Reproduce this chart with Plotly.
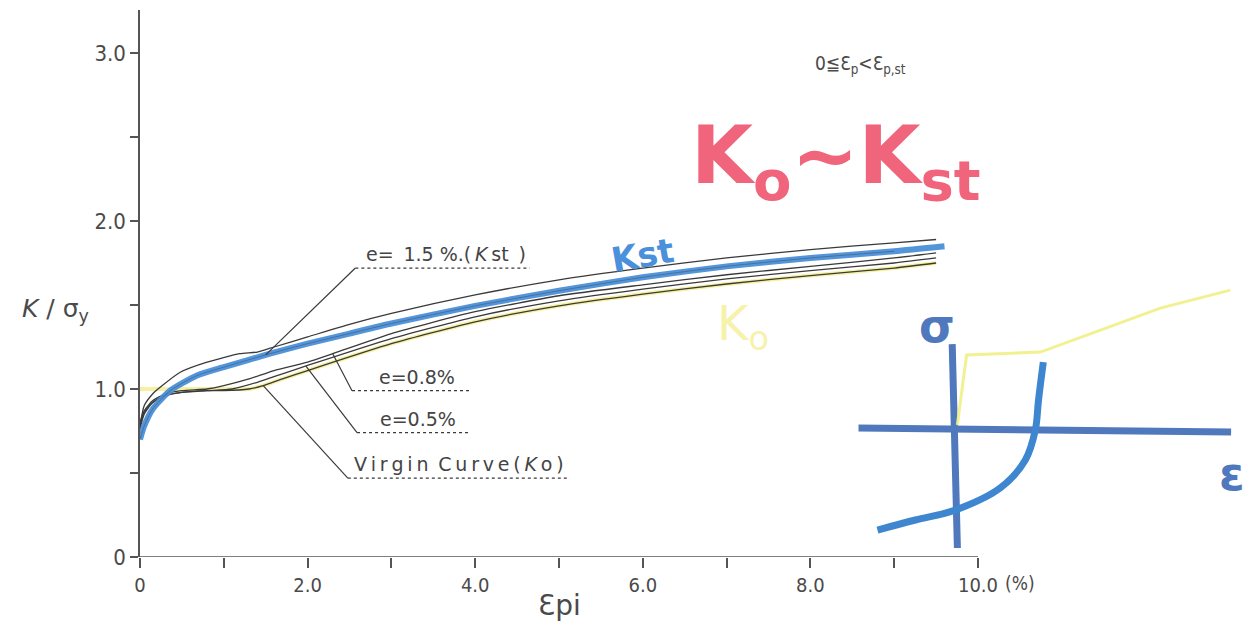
import numpy as np
import plotly.graph_objects as go

# ---- hardening curves: K / sigma_y against plastic strain Epi (%) ----
# uppermost (unlabelled) curve
eps_top = [0, 0.05, 0.15, 0.24, 0.48, 0.8, 1.19, 1.4, 1.6, 2.0, 2.5, 3.0, 4.0, 5.0, 6.0, 7.0, 8.0, 9.0, 9.5]
k_top = [0.78, 0.90, 0.97, 1.01, 1.10, 1.16, 1.21, 1.22, 1.25, 1.31, 1.385, 1.45, 1.56, 1.65, 1.72, 1.78, 1.83, 1.87, 1.89]

# e = 1.5 % (Kst)
eps_kst = [0, 0.05, 0.15, 0.36, 0.68, 1.0, 1.55, 2.0, 2.5, 3.0, 4.0, 5.0, 6.0, 7.0, 8.0, 9.0, 9.6]
k_kst = [0.70, 0.78, 0.88, 0.99, 1.08, 1.13, 1.21, 1.27, 1.33, 1.39, 1.495, 1.585, 1.665, 1.73, 1.78, 1.82, 1.85]

# e = 0.8 %
eps_e08 = [0, 0.05, 0.15, 0.3, 0.5, 0.8, 1.0, 1.3, 1.6, 2.0, 2.3, 3.0, 4.0, 5.0, 6.0, 7.0, 8.0, 9.0, 9.5]
k_e08 = [0.80, 0.87, 0.93, 0.97, 0.99, 1.00, 1.02, 1.06, 1.11, 1.16, 1.21, 1.33, 1.46, 1.555, 1.62, 1.68, 1.73, 1.78, 1.81]

# e = 0.5 %
eps_e05 = [0, 0.05, 0.15, 0.3, 0.5, 0.8, 1.1, 1.4, 1.7, 2.0, 3.0, 4.0, 5.0, 6.0, 7.0, 8.0, 9.0, 9.5]
k_e05 = [0.78, 0.86, 0.92, 0.96, 0.98, 0.99, 1.00, 1.04, 1.09, 1.14, 1.30, 1.43, 1.525, 1.595, 1.655, 1.705, 1.75, 1.78]

# virgin curve (Ko)
eps_vir = [0, 0.05, 0.15, 0.3, 0.5, 0.8, 1.0, 1.3, 1.47, 1.7, 2.0, 3.0, 4.0, 5.0, 6.0, 7.0, 8.0, 9.0, 9.5]
k_vir = [0.76, 0.85, 0.92, 0.96, 0.98, 0.99, 0.99, 1.00, 1.02, 1.06, 1.11, 1.27, 1.40, 1.495, 1.565, 1.625, 1.675, 1.72, 1.75]

x_major_vals = [0, 2, 4, 6, 8, 10]
x_major_text = ["0", "2.0", "4.0", "6.0", "8.0", "10.0"]
x_minor_vals = [1, 3, 5, 7, 9]
y_major_vals = [0, 1.0, 2.0, 3.0]
y_major_text = ["0", "1.0", "2.0", "3.0"]
y_minor_vals = [0.5, 1.5, 2.5]

# ---- small sigma-epsilon sketch (nominal units) ----
sk_h_eps = [-2.43, 6.9]
sk_h_sig = [0.0, -0.1]
sk_v_eps = [-0.08, 0.05]
sk_v_sig = [2.1, -3.0]
sk_blue_eps = [-1.95, -1.0, 0.0, 1.12, 1.75, 2.0, 2.08, 2.2]
sk_blue_sig = [-2.55, -2.3, -2.05, -1.5, -0.8, -0.05, 0.7, 1.65]
sk_yel_eps = [0.05, 0.28, 2.13, 3.63, 5.13, 6.88]
sk_yel_sig = [0.08, 1.83, 1.9, 2.45, 3.0, 3.45]

INK = "#3a3a3a"
AXIS = "#555555"
TXT = "#4a4a4a"
BLUE = "#4a90da"
SKETCH_BLUE = "#5079bd"
YELLOW = "rgba(245,240,150,0.9)"
NARROW = "Liberation Sans Narrow, DejaVu Sans Condensed, sans-serif"
SPLINE = dict(shape="spline", smoothing=0.6)

fig = go.Figure()

# yellow highlight of the virgin curve (Ko)
fig.add_trace(go.Scatter(x=eps_vir, y=np.maximum(np.array(k_vir), 1.0), mode="lines",
                         line=dict(color=YELLOW, width=4, **SPLINE),
                         hoverinfo="skip", showlegend=False))

for xs, ys in [(eps_top, k_top), (eps_e08, k_e08), (eps_e05, k_e05), (eps_vir, k_vir)]:
    fig.add_trace(go.Scatter(x=xs, y=ys, mode="lines",
                             line=dict(color=INK, width=1.3, **SPLINE), showlegend=False))

# Kst marked in blue, with its ink line showing through
fig.add_trace(go.Scatter(x=eps_kst, y=k_kst, mode="lines",
                         line=dict(color=BLUE, width=6, **SPLINE),
                         opacity=0.95, showlegend=False))
fig.add_trace(go.Scatter(x=eps_kst[:-1], y=k_kst[:-1], mode="lines",
                         line=dict(color=INK, width=1, **SPLINE),
                         opacity=0.4, showlegend=False))

# sketch traces on the inset axes
fig.add_trace(go.Scatter(x=sk_h_eps, y=sk_h_sig, mode="lines", xaxis="x2", yaxis="y2",
                         line=dict(color=SKETCH_BLUE, width=7), showlegend=False))
fig.add_trace(go.Scatter(x=sk_v_eps, y=sk_v_sig, mode="lines", xaxis="x2", yaxis="y2",
                         line=dict(color=SKETCH_BLUE, width=7), showlegend=False))
fig.add_trace(go.Scatter(x=sk_blue_eps, y=sk_blue_sig, mode="lines", xaxis="x2", yaxis="y2",
                         line=dict(color="#3f86d0", width=7, shape="spline"), showlegend=False))
fig.add_trace(go.Scatter(x=sk_yel_eps, y=sk_yel_sig, mode="lines", xaxis="x2", yaxis="y2",
                         line=dict(color="rgba(240,240,140,0.95)", width=3), showlegend=False))

shapes = []
# x axis line drawn over 0..10 only
shapes.append(dict(type="line", xref="x", yref="y", x0=0, x1=10, y0=0, y1=0,
                   line=dict(color=AXIS, width=1.5)))

TS = "\u2009"  # thin space used for the spaced-out lettering
labels = [
    (eps_kst, k_kst, 1.5, 2.57, 1.72, 4.65, 2.67,
     f"e={TS} 1.5 %.({TS}<i>K</i>{TS}st{TS} )"),
    (eps_e08, k_e08, 2.3, 2.53, 0.99, 3.96, 2.83, "e=0.8%"),
    (eps_e05, k_e05, 1.98, 2.59, 0.74, 3.94, 2.84, "e=0.5%"),
    (eps_vir, k_vir, 1.47, 2.48, 0.47, 5.13, 2.53,
     TS.join("Virgin") + TS + " " + TS.join("Curve(") + TS + "<i>K</i>" + TS + "o" + TS + ")"),
]
annotations = []
for xs, ys, xc, xl, yl, xr, xt, txt in labels:
    yc = float(np.interp(xc, xs, ys))
    shapes.append(dict(type="line", xref="x", yref="y", x0=xc, y0=yc, x1=xl, y1=yl,
                       line=dict(color=INK, width=1.2)))
    shapes.append(dict(type="line", xref="x", yref="y", x0=xl, y0=yl, x1=xr, y1=yl,
                       line=dict(color=INK, width=1.2, dash="dot")))
    annotations.append(dict(x=xt, y=yl + 0.005, xref="x", yref="y", text=txt,
                            showarrow=False, xanchor="left", yanchor="bottom",
                            font=dict(family="DejaVu Sans", size=19, color="#444444")))

annotations += [
    dict(x=10.3, y=0, xref="x", yref="y", yshift=-26, text="(%)", showarrow=False,
         xanchor="left", font=dict(family=NARROW, size=19, color=TXT)),
    dict(x=-0.045, y=(557 - 310) / 547, xref="paper", yref="paper", xanchor="right",
         text="<i>K</i> / σ<sub>y</sub>", showarrow=False,
         font=dict(family="DejaVu Sans", size=25, color=TXT)),
    dict(x=5.0, y=0, xref="x", yref="y", yshift=-48, text="Ɛpi", showarrow=False,
         font=dict(family="DejaVu Sans", size=28, color=TXT)),
    dict(x=8.6, y=2.93, xref="x", yref="y",
         text="0≦Ɛ<sub>p</sub><Ɛ<sub>p,st</sub>", showarrow=False,
         font=dict(family="DejaVu Sans Condensed, DejaVu Sans", size=19, color=TXT)),
    dict(x=8.3, y=2.36, xref="x", yref="y",
         text="<b>K<sub>o</sub>~K<sub>st</sub></b>", showarrow=False,
         font=dict(family="DejaVu Sans", size=80, color="#f0647c")),
    dict(x=6.0, y=1.80, xref="x", yref="y", text="<b>Kst</b>", showarrow=False, textangle=-10,
         font=dict(family="DejaVu Sans", size=34, color=BLUE)),
    dict(x=7.2, y=1.37, xref="x", yref="y", text="K<sub>o</sub>", showarrow=False,
         font=dict(family="DejaVu Sans", size=48, color="rgba(245,240,160,0.9)")),
    dict(x=-0.45, y=2.55, xref="x2", yref="y2", text="<b>σ</b>", showarrow=False,
         font=dict(family="DejaVu Sans", size=46, color=SKETCH_BLUE)),
    dict(x=6.93, y=-1.15, xref="x2", yref="y2", text="<b>ε</b>", showarrow=False,
         font=dict(family="DejaVu Sans", size=46, color=SKETCH_BLUE)),
]

fig.update_layout(
    width=1260, height=625,
    margin=dict(l=140, r=20, t=10, b=68),
    paper_bgcolor="white", plot_bgcolor="white",
    shapes=shapes, annotations=annotations,
    xaxis=dict(range=[0, 1100 / 83.8], showline=False, zeroline=False, showgrid=False,
               tickmode="array", tickvals=x_major_vals, ticktext=x_major_text,
               ticks="outside", ticklen=10, tickwidth=1.5, tickcolor=AXIS,
               tickfont=dict(family=NARROW, size=20, color=TXT),
               minor=dict(tickmode="array", tickvals=x_minor_vals, ticks="outside",
                          ticklen=10, tickwidth=1.5, tickcolor=AXIS, showgrid=False)),
    yaxis=dict(range=[0, 547 / 168], showline=True, linecolor=AXIS, linewidth=1.5,
               zeroline=False, showgrid=False,
               tickmode="array", tickvals=y_major_vals, ticktext=y_major_text,
               ticks="outside", ticklen=8, tickwidth=1.5, tickcolor=AXIS,
               tickfont=dict(family=NARROW, size=22, color=TXT),
               minor=dict(tickmode="array", tickvals=y_minor_vals, ticks="outside",
                          ticklen=8, tickwidth=1.5, tickcolor=AXIS, showgrid=False)),
    xaxis2=dict(domain=[0.653, 0.993], range=[-2.43, 6.93], visible=False, anchor="y2"),
    yaxis2=dict(domain=[0.0128, 0.497], range=[-3.05, 3.575], visible=False, anchor="x2"),
)

fig.write_html("out.html")
